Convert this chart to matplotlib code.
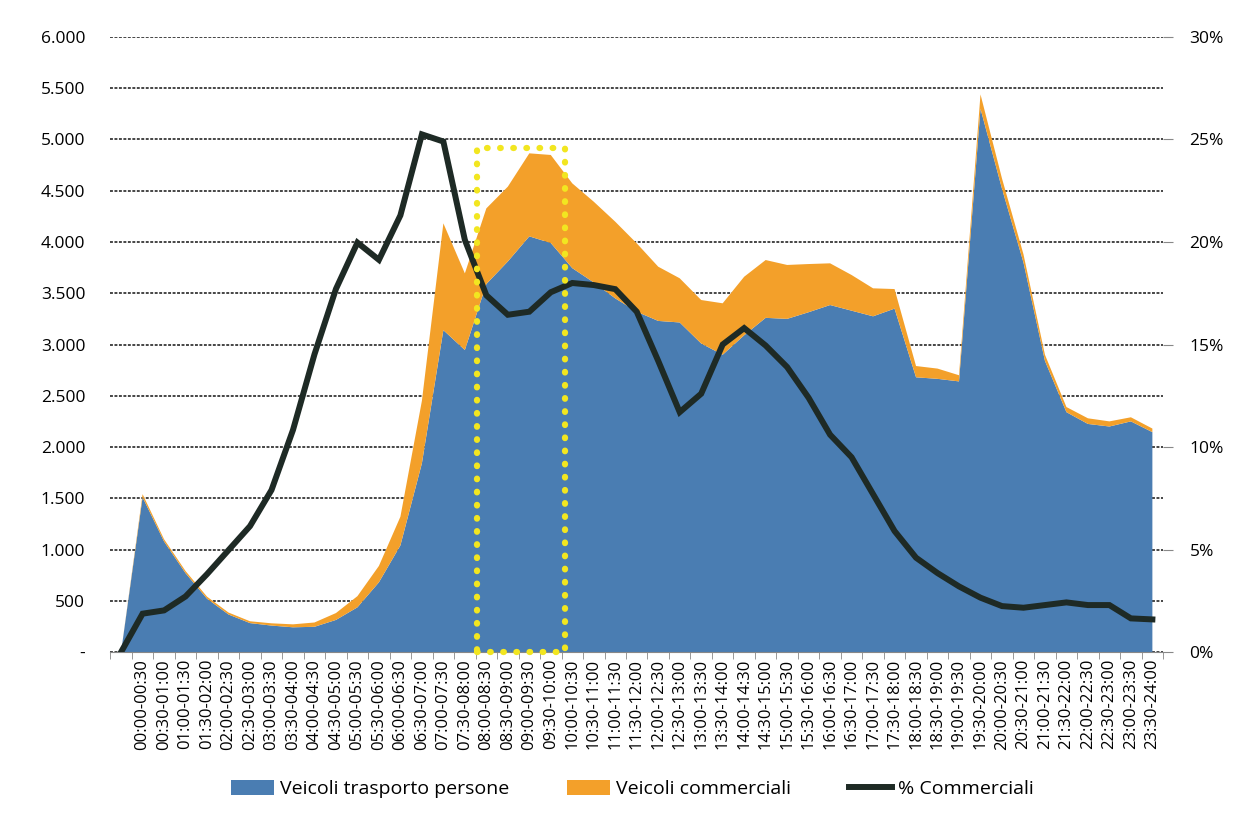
import matplotlib
matplotlib.use("Agg")
import matplotlib.pyplot as plt
from matplotlib.patches import Patch, Rectangle
from matplotlib.lines import Line2D
from matplotlib.ticker import FuncFormatter, MultipleLocator

plt.rcParams['font.family'] = ['Open Sans', 'DejaVu Sans']

# half-hour slots (first slot is an empty lead-in category)
slots = [''] + ['%02d:%02d-%02d:%02d' % (h // 2, 30 * (h % 2), (h + 1) // 2, 30 * ((h + 1) % 2))
                for h in range(48)]
slots[-1] = '23:30-24:00'

persone = [0, 1510, 1078, 769, 520, 366, 282, 258, 241, 246, 313, 436, 680, 1040, 1840,
           3140, 2946, 3590, 3810, 4055, 3990, 3745, 3605, 3450, 3320, 3230, 3215, 3010,
           2900, 3090, 3260, 3250, 3315, 3385, 3330, 3275, 3350, 2680, 2665, 2640, 5300,
           4520, 3800, 2840, 2340, 2225, 2200, 2250, 2145]
totale = [0, 1540, 1100, 790, 540, 385, 300, 280, 270, 288, 380, 545, 840, 1320, 2450,
          4182, 3694, 4328, 4540, 4865, 4849, 4572, 4393, 4198, 3987, 3759, 3646, 3434,
          3402, 3661, 3824, 3776, 3785, 3792, 3678, 3548, 3541, 2790, 2765, 2700, 5440,
          4620, 3880, 2900, 2390, 2280, 2250, 2290, 2180]
commerciali = [t - p for t, p in zip(totale, persone)]
perc_comm = [0, 1.87, 2.03, 2.71, 3.80, 4.97, 6.14, 7.90, 10.83, 14.52, 17.71, 19.97, 19.13,
             21.3, 25.25, 24.9, 20.1, 17.4, 16.45, 16.6, 17.55, 18.0, 17.9, 17.7, 16.6, 14.2,
             11.7, 12.6, 15.0, 15.8, 14.95, 13.9, 12.4, 10.6, 9.5, 7.7, 5.9, 4.6, 3.85, 3.2,
             2.65, 2.24, 2.16, 2.29, 2.42, 2.29, 2.29, 1.64, 1.59]

highlight = ['08:00-08:30', '09:30-10:00']

BLUE = '#4a7db2'
ORANGE = '#f3a02a'
LINE = '#1e2a25'
GRID = '#454545'

fig = plt.figure(figsize=(12.4, 8.22), dpi=100)
ax = fig.add_axes([0.089, 0.2068, 0.849, 0.7482])
x = list(range(len(slots)))

ax.stackplot(x, persone, commerciali, colors=[BLUE, ORANGE], linewidth=0)
ax.set_xlim(-0.5, len(slots) - 0.5)
ax.set_ylim(0, 6000)
ax.yaxis.set_major_locator(MultipleLocator(500))
ax.yaxis.set_major_formatter(FuncFormatter(
    lambda v, p: '-' if v == 0 else '{:,.0f}'.format(v).replace(',', '.')))
ax.grid(axis='y', color=GRID, linestyle=(0, (1.5, 0.8)), linewidth=1.4)
ax.set_axisbelow(True)

ax.set_xticks(x)
ax.set_xticklabels(slots, rotation=90, fontsize=12)
ax.set_xticks([i - 0.5 for i in range(len(slots) + 1)], minor=True)
ax.tick_params(axis='x', which='major', length=0, pad=5)
ax.tick_params(axis='x', which='minor', length=5, color='#888888')
ax.tick_params(axis='y', length=0, labelsize=12.5, pad=18)
for s in ['top', 'left', 'right']:
    ax.spines[s].set_visible(False)
ax.spines['bottom'].set_color('#888888')

ax2 = ax.twinx()
ax2.plot(x, perc_comm, color=LINE, linewidth=4.3, solid_joinstyle='miter')
ax2.set_ylim(0, 30)
ax2.yaxis.set_major_locator(MultipleLocator(5))
ax2.yaxis.set_major_formatter(FuncFormatter(lambda v, p: '%d%%' % v))
ax2.tick_params(axis='y', length=7, color='#888888', labelsize=12.5, pad=12)
for s in ax2.spines.values():
    s.set_visible(False)

# yellow dotted highlight box
x0 = slots.index(highlight[0]) - 0.45
x1 = slots.index(highlight[1]) + 0.65
ax2.add_patch(Rectangle((x0, 0), x1 - x0, 24.6, fill=False, edgecolor='#f2e620',
                        linewidth=4.5, linestyle=(0, (0.1, 2.0)), capstyle='round',
                        zorder=5, clip_on=False))

handles = [Patch(facecolor=BLUE, label='Veicoli trasporto persone'),
           Patch(facecolor=ORANGE, label='Veicoli commerciali'),
           Line2D([], [], color=LINE, linewidth=4.3, label='% Commerciali')]
fig.legend(handles=handles, loc='center', bbox_to_anchor=(0.51, 0.04), ncol=3,
           frameon=False, fontsize=14, handlelength=2.2, handleheight=0.8,
           handletextpad=0.3, columnspacing=3.0)

fig.savefig('out.png', dpi=100)
